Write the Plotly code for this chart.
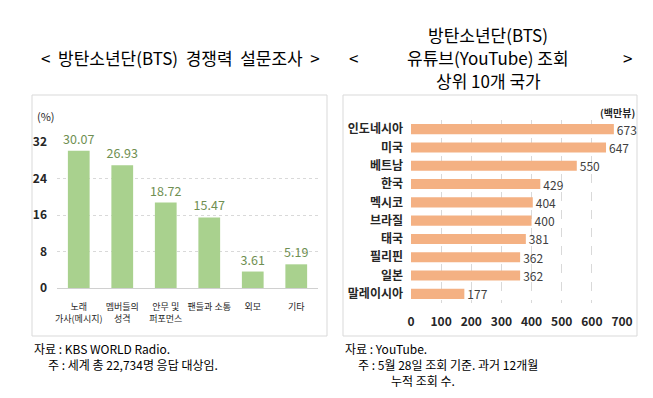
import plotly.graph_objects as go

W, H = 653, 398

# ---- data ----
survey_categories = ["노래<br>가사(메시지)", "멤버들의<br>성격", "안무 및<br>퍼포먼스", "팬들과 소통", "외모", "기타"]
survey_values = [30.07, 26.93, 18.72, 15.47, 3.61, 5.19]
survey_ticks = [0, 8, 16, 24, 32]

countries = ["인도네시아", "미국", "베트남", "한국", "멕시코", "브라질", "태국", "필리핀", "일본", "말레이시아"]
views = [673, 647, 550, 429, 404, 400, 381, 362, 362, 177]
view_ticks = [0, 100, 200, 300, 400, 500, 600, 700]

KR = "Noto Sans CJK KR"
NUM = "Liberation Sans Narrow, Noto Sans CJK KR"
NB = "\u00a0"


def px(x):
    return x / W


def py(y):
    return 1 - y / H


fig = go.Figure()

fig.add_trace(go.Bar(
    x=survey_categories, y=survey_values, xaxis="x", yaxis="y",
    marker=dict(color="#a9d18e", line=dict(width=0)), width=0.5,
    texttemplate="%{y:.2f}", textposition="outside", cliponaxis=False,
    constraintext="none",
    textfont=dict(family=NUM, size=12.5, color="#6f8f52"),
    hoverinfo="skip",
))

fig.add_trace(go.Bar(
    x=views, y=countries, orientation="h", xaxis="x2", yaxis="y2",
    marker=dict(color="#f4b183", line=dict(width=0)), width=0.55,
    texttemplate="%{x}", textposition="outside", cliponaxis=False,
    constraintext="none",
    textfont=dict(family=NUM, size=12, color="#404040"),
    hoverinfo="skip",
))

fig.update_layout(
    width=W, height=H, margin=dict(l=0, r=0, t=0, b=0),
    paper_bgcolor="white", plot_bgcolor="white", showlegend=False,
    font=dict(family=KR, color="#000000"),
    xaxis=dict(
        domain=[px(57), px(318)], type="category", tickangle=0,
        automargin=False,
        showgrid=False, showline=False, zeroline=False, ticks="",
        tickfont=dict(family=KR, size=9, color="#262626"),
        ticklabelstandoff=12, fixedrange=True,
    ),
    yaxis=dict(
        domain=[py(288), py(142)], range=[0, 32], tickvals=survey_ticks,
        automargin=False,
        showgrid=True, gridcolor="#d9d9d9", griddash="dot", gridwidth=1,
        zeroline=True, zerolinecolor="#d0d0d0", zerolinewidth=1,
        showline=False, ticks="",
        tickfont=dict(family=NUM, size=12, color="#262626", weight="bold"),
        ticklabelstandoff=9, fixedrange=True,
    ),
    xaxis2=dict(
        domain=[px(411), px(622)], range=[0, 700], tickvals=view_ticks,
        anchor="y2", automargin=False,
        showgrid=True, gridcolor="#d9d9d9", griddash="dash", gridwidth=1,
        zeroline=True, zerolinecolor="rgba(0,0,0,0)",
        showline=False, ticks="",
        tickfont=dict(family=NUM, size=12, color="#262626", weight="bold"),
        ticklabelstandoff=10, fixedrange=True,
    ),
    yaxis2=dict(
        domain=[py(303), py(120)], anchor="x2", type="category",
        autorange="reversed", automargin=False,
        showgrid=False, showline=False, zeroline=False, ticks="",
        tickfont=dict(family=KR, size=12, color="#262626", weight="bold"),
        ticklabelstandoff=7, fixedrange=True,
    ),
)

# panel frames
for x0, x1 in [(32, 327), (343, 637)]:
    fig.add_shape(type="rect", xref="paper", yref="paper",
                  x0=px(x0), x1=px(x1), y0=py(336), y1=py(95),
                  line=dict(color="#d9d9d9", width=1), fillcolor="rgba(0,0,0,0)", layer="below")


def ann(text, x, y, size, xanchor="center", yanchor="middle", color="#000000",
        family=KR, bold=False, align="center"):
    fig.add_annotation(text=text, x=px(x), y=py(y), xref="paper", yref="paper",
                       xanchor=xanchor, yanchor=yanchor, align=align, showarrow=False,
                       font=dict(family=family, size=size, color=color,
                                 weight="bold" if bold else "normal"))


# titles
ann(f"<{NB}{NB}방탄소년단(BTS){NB}{NB}경쟁력{NB}{NB}설문조사{NB}{NB}>", 180, 58, 17)
ann("방탄소년단(BTS)", 488, 34, 17)
ann("유튜브(YouTube) 조회", 488, 58, 17)
ann("상위 10개 국가", 488, 80, 17)
ann("<", 353, 58, 17)
ann(">", 627, 58, 17)

# unit labels
ann("(%)", 46, 116, 11, color="#262626")
ann("(백만뷰)", 617, 112, 10, color="#262626", bold=True)

# footnotes
ann("자료 : KBS WORLD Radio.", 32, 348, 12, xanchor="left")
ann("주 : 세계 총 22,734명 응답 대상임.", 46, 364, 12, xanchor="left")
ann("자료 : YouTube.", 343, 348, 12, xanchor="left")
ann("주 : 5월 28일 조회 기준. 과거 12개월", 356, 364, 12, xanchor="left")
ann("누적 조회 수.", 389, 380, 12, xanchor="left")

fig.write_html("out.html", config={"displayModeBar": False, "staticPlot": True})

# remove the browser's default 8px page margin so the figure sits at (0, 0)
with open("out.html", encoding="utf-8") as f:
    html = f.read()
html = html.replace("<body>", '<body style="margin:0;padding:0;overflow:hidden">', 1)
with open("out.html", "w", encoding="utf-8") as f:
    f.write(html)
